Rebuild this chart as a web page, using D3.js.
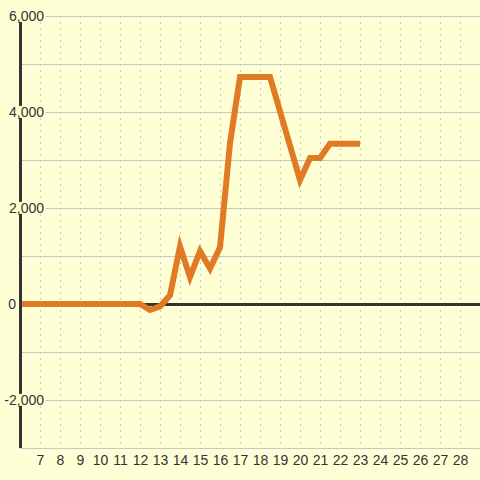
<!DOCTYPE html>
<html>
<head>
<meta charset="utf-8">
<script src="https://cdn.jsdelivr.net/npm/d3@7"></script>
<style>
body{margin:0;background:#ffffd6;}
svg{display:block;}
text{font-family:"Liberation Sans",Arial,sans-serif;font-size:14px;fill:#333;}
</style>
</head>
<body>
<div id="graph"></div>
<script>
const width = 480, height = 480;

// data
const days = [6, 12, 12.5, 13, 13.5, 14, 14.5, 15, 15.5, 16, 16.5, 17, 18.5, 20, 20.5, 21, 21.5, 23];
const values = [0, 0, -125, -50, 180, 1200, 560, 1100, 740, 1180, 3350, 4730, 4730, 2580, 3040, 3040, 3340, 3340];
const xTicks = d3.range(7, 29);
const yTicks = [-2000, 0, 2000, 4000, 6000];
const yGrid = d3.range(-3000, 6001, 1000);

const xScale = d3.scaleLinear().domain([6, 29]).range([20, 480]);
const yScale = d3.scaleLinear().domain([-3000, 6000]).range([448, 16]);

let svg = d3.select("#graph").
append("svg").
attr("width", width).
attr("height", height);

svg.append("rect").attr("width", width).attr("height", height).attr("fill", "#ffffd6");

// vertical dashed grid
svg.append("g").selectAll("line").
data(xTicks).
enter().
append("line").
attr("x1", d => Math.round(xScale(d)) + 0.5).
attr("x2", d => Math.round(xScale(d)) + 0.5).
attr("y1", yScale(6000)).
attr("y2", yScale(-3000)).
attr("stroke", "#c8c8c8").
attr("stroke-dasharray", "2,4");

// horizontal grid
svg.append("g").selectAll("line").
data(yGrid).
enter().
append("line").
attr("x1", xScale(6)).
attr("x2", width).
attr("y1", d => yScale(d) + 0.5).
attr("y2", d => yScale(d) + 0.5).
attr("stroke", "#c8c8c8");

// zero line
svg.append("line").
attr("x1", xScale(6)).
attr("x2", width).
attr("y1", yScale(0) + 0.5).
attr("y2", yScale(0) + 0.5).
attr("stroke", "#333").
attr("stroke-width", 3);

// series
const line = d3.line().x((d, i) => xScale(days[i])).y(d => yScale(d));
svg.append("path").
datum(values).
attr("d", line).
attr("fill", "none").
attr("stroke", "#e07b24").
attr("stroke-width", 6).
attr("stroke-linejoin", "miter");

// y axis line
svg.append("line").
attr("x1", xScale(6) + 0.5).
attr("x2", xScale(6) + 0.5).
attr("y1", yScale(6000)).
attr("y2", yScale(-3000)).
attr("stroke", "#333").
attr("stroke-width", 3);

// y labels with background
const yLab = svg.append("g").selectAll("g").
data(yTicks).
enter().
append("g").
attr("transform", d => "translate(" + (d === 0 ? 16 : 44) + "," + yScale(d) + ")");
yLab.append("text").
attr("text-anchor", "end").
attr("dy", "0.35em").
text(d => d3.format(",")(d).replace("−", "-"));
yLab.each(function (d) {
  if (d === 0) return;
  const b = d3.select(this).select("text").node().getBBox();
  d3.select(this).insert("rect", "text").
  attr("x", b.x - 1).
  attr("y", b.y + 2).
  attr("width", b.width + 2).
  attr("height", b.height - 4).
  attr("fill", "#ffffd6");
});

// x axis labels
const xAxis = d3.axisBottom(xScale).tickValues(xTicks).tickSize(0).tickPadding(0).tickFormat(d3.format("d"));
const gx = svg.append("g").
attr("transform", "translate(0," + 455 + ")").
call(xAxis);
gx.select(".domain").remove();
gx.selectAll("text").attr("fill", "#333").style("font-size", "14px").style("font-family", "Liberation Sans, Arial, sans-serif");
</script>
</body>
</html>
